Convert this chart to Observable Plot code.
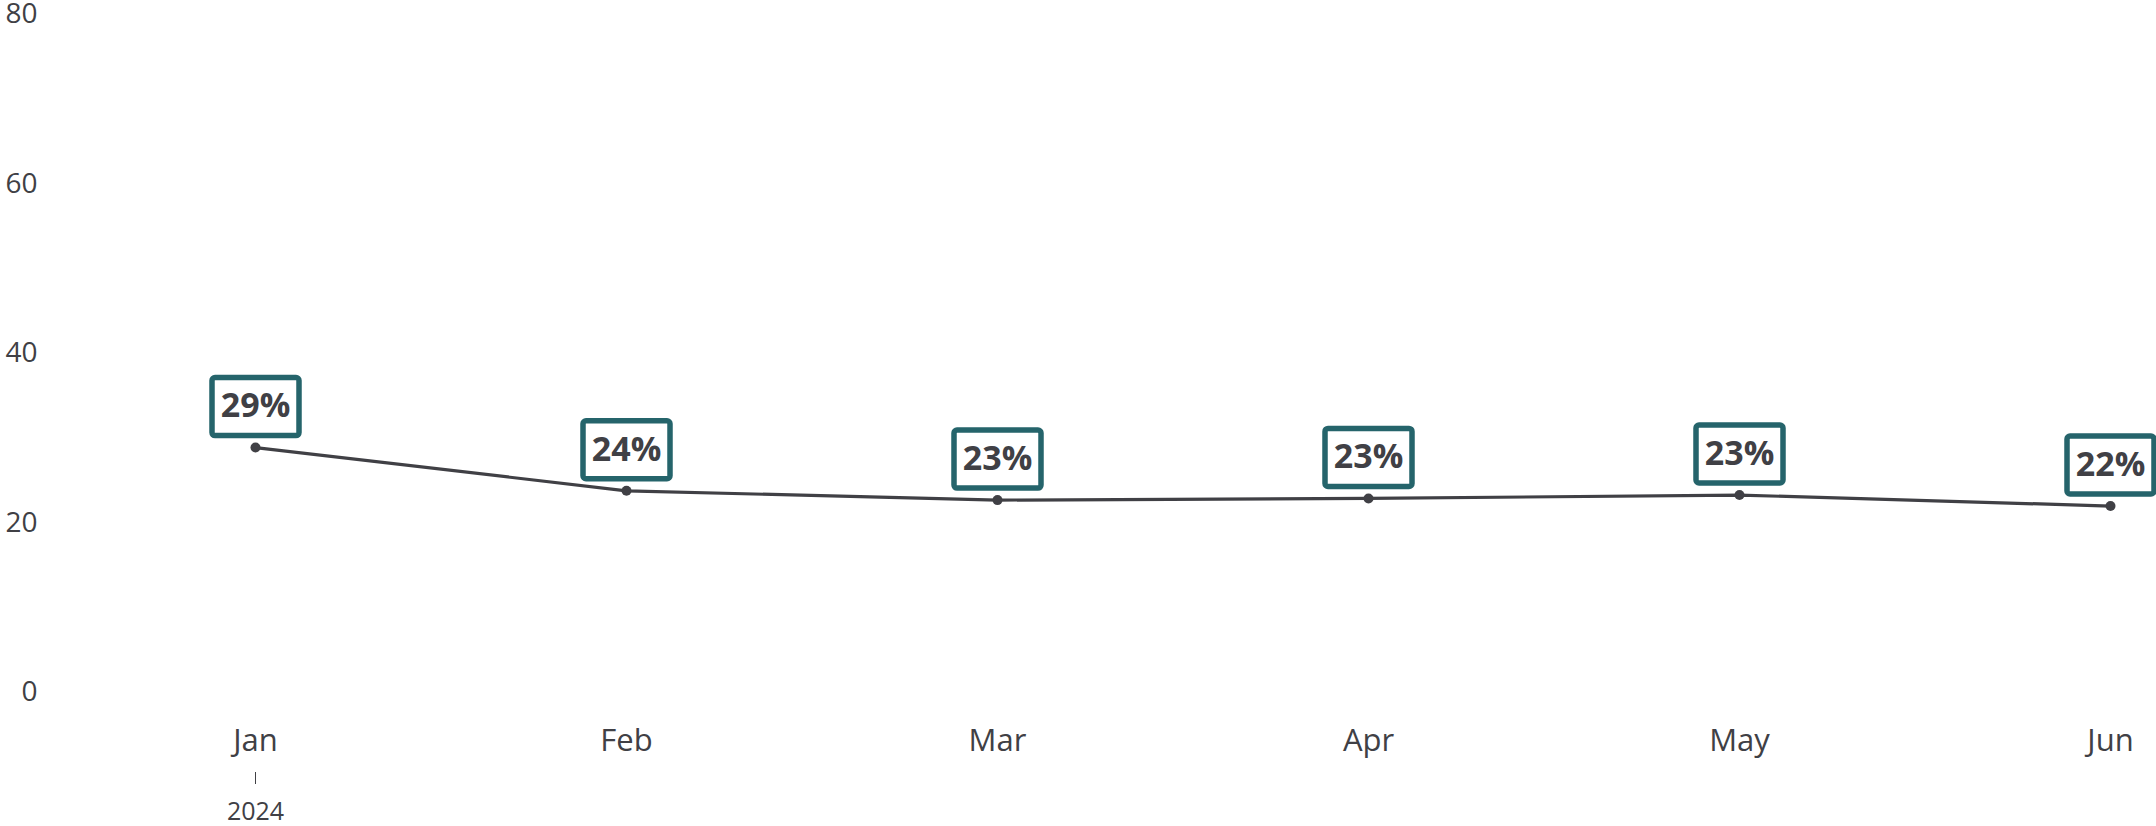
<!DOCTYPE html>
<html>
<head>
<meta charset="utf-8">
<script src="https://cdn.jsdelivr.net/npm/d3@7"></script>
<script src="https://cdn.jsdelivr.net/npm/@observablehq/plot@0.6"></script>
<style>
  html, body { margin: 0; padding: 0; background: #ffffff; }
  #chart svg { display: block; }
</style>
</head>
<body>
<div id="chart"></div>
<script>
// ---- data ----
const months = ["Jan", "Feb", "Mar", "Apr", "May", "Jun"];
const values = [28.9, 23.8, 22.7, 22.9, 23.3, 22.0];
const valueLabels = ["29%", "24%", "23%", "23%", "23%", "22%"];
const yTicks = [0, 20, 40, 60, 80];
const yearLabel = "2024";

const data = months.map((m, i) => ({month: m, value: values[i], label: valueLabels[i]}));

const ink = "#404045";
const teal = "#25646b";

// custom rounded-rectangle symbol for the value boxes
const boxSymbol = {
  draw(ctx) {
    const w = 87, h = 58, r = 3;
    const x0 = -w / 2, y0 = -h / 2, x1 = w / 2, y1 = h / 2;
    ctx.moveTo(x0 + r, y0);
    ctx.lineTo(x1 - r, y0);
    ctx.arcTo(x1, y0, x1, y0 + r, r);
    ctx.lineTo(x1, y1 - r);
    ctx.arcTo(x1, y1, x1 - r, y1, r);
    ctx.lineTo(x0 + r, y1);
    ctx.arcTo(x0, y1, x0, y1 - r, r);
    ctx.lineTo(x0, y0 + r);
    ctx.arcTo(x0, y0, x0 + r, y0, r);
    ctx.closePath();
  }
};

const chart = Plot.plot({
  width: 2156,
  height: 826,
  marginLeft: 40,
  marginRight: 0,
  marginTop: 0,
  marginBottom: 134,
  style: {fontFamily: "'Open Sans', sans-serif", color: ink, background: "#ffffff"},
  x: {type: "point", domain: months, range: [253, 2112], padding: 0},
  y: {domain: [0, 80], range: [692, 14]},
  marks: [
    Plot.axisY({ticks: yTicks, tickSize: 0, tickPadding: 3, fontSize: 28, fill: ink, label: null}),
    Plot.axisX({tickSize: 0, tickPadding: 36, fontSize: 31, fill: ink, label: null}),
    Plot.axisX({ticks: ["Jan"], tickFormat: () => yearLabel, tickSize: 12, tickPadding: 18, dy: 80, fontSize: 25, fill: ink, stroke: ink, label: null}),
    Plot.line(data, {x: "month", y: "value", stroke: ink, strokeWidth: 3.2}),
    Plot.dot(data, {x: "month", y: "value", r: 5, fill: ink, stroke: "none"}),
    Plot.dot(data, {x: "month", y: "value", symbol: boxSymbol, r: 10, fill: "#ffffff", stroke: teal, strokeWidth: 5.5, dy: -41}),
    Plot.text(data, {x: "month", y: "value", text: "label", dy: -41, fontSize: 34, fontWeight: "bold", fill: ink})
  ]
});

document.getElementById("chart").appendChild(chart);
</script>
</body>
</html>
